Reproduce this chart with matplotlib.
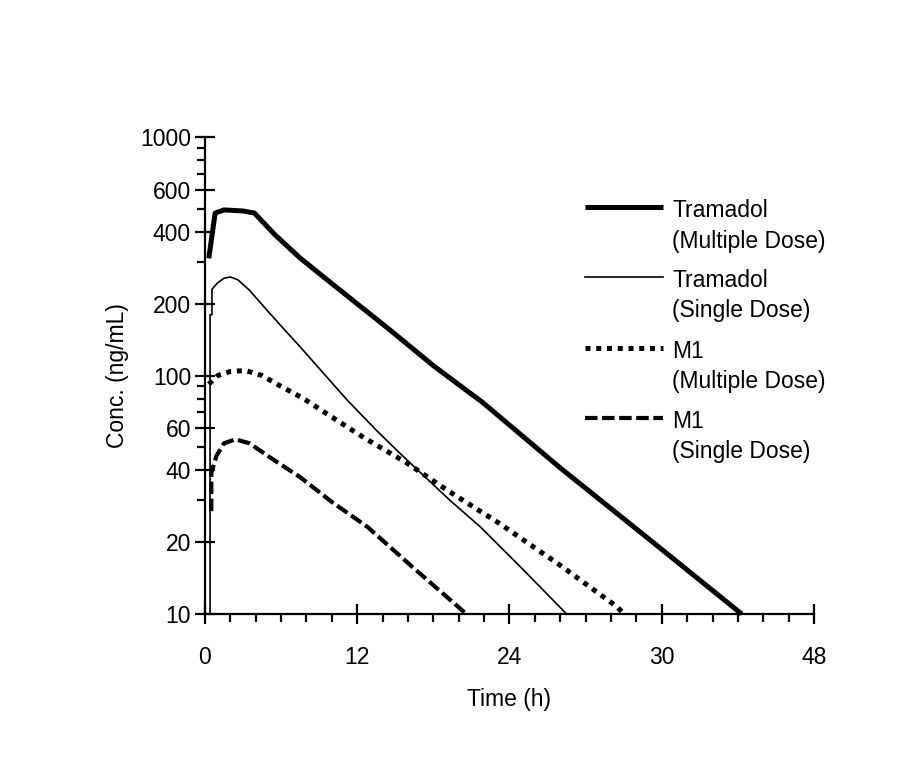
import numpy as np
import matplotlib
matplotlib.use("Agg")
import matplotlib.pyplot as plt
from matplotlib.ticker import FixedLocator, NullFormatter

plt.rcParams['font.family'] = ['Liberation Sans', 'DejaVu Sans']

# Tramadol, multiple dose
t_tram_md = [0.3, 0.8, 1.5, 3.0, 3.9, 5.5, 7.5, 10.0, 14.6, 18.0, 21.9, 28.0, 35.1, 42.3]
c_tram_md = [310, 480, 495, 490, 480, 390, 311, 243, 155, 110, 77, 41, 20.4, 10]

# Tramadol, single dose
t_tram_sd = [0.4, 0.4, 0.55, 0.55, 1.0, 1.5, 2.0, 2.6, 3.5, 5.0, 6.3, 7.5, 9.5, 11.2, 13.5, 15.4, 19.3, 21.7, 25.0, 28.5]
c_tram_sd = [10, 180, 180, 230, 245, 256, 259, 252, 228, 185, 155, 132, 100, 79, 59, 47, 30, 23.2, 15.5, 10]

# M1, multiple dose
t_m1_md = [0.3, 1.0, 2.0, 3.2, 4.5, 6.0, 7.7, 10.0, 12.5, 15.9, 19.3, 23.2, 28.0, 32.5, 33.0]
c_m1_md = [92, 100, 104, 105, 100, 90, 80.5, 67, 55, 43, 32.5, 24, 16, 10.7, 10]

# M1, single dose
t_m1_sd = [0.5, 0.5, 0.9, 1.5, 2.4, 3.5, 5.5, 7.5, 10.0, 12.8, 16.5, 20.6]
c_m1_sd = [27, 39, 46, 52, 54, 52, 44, 37.5, 29.5, 23.2, 15.5, 10]

labels = ["Tramadol", "(Multiple Dose)", "Tramadol", "(Single Dose)",
          "M1", "(Multiple Dose)", "M1", "(Single Dose)"]

x_major = [0, 12, 24, 36, 48]
x_major_labels = ["0", "12", "24", "30", "48"]
x_minor = np.arange(0, 49, 2)
y_major = [10, 20, 40, 60, 100, 200, 400, 600, 1000]
y_minor = [30, 50, 70, 80, 90, 300, 500, 700, 800, 900]

fs = 16.5

fig = plt.figure(figsize=(9.2, 7.68), dpi=100)
ax = fig.add_axes([0.2228, 0.2005, 0.662, 0.621])

styles = [
    dict(color="black", lw=3.6, solid_capstyle="butt"),
    dict(color="black", lw=1.2),
    dict(color="black", lw=3.6, linestyle=(0, (1.0, 1.15)), dash_capstyle="butt"),
    dict(color="black", lw=3.0, linestyle=(0, (3.0, 1.1)), dash_capstyle="butt"),
]
series = [(t_tram_md, c_tram_md), (t_tram_sd, c_tram_sd), (t_m1_md, c_m1_md), (t_m1_sd, c_m1_sd)]
for (t, c), st in zip(series, styles):
    ax.plot(t, c, **st, clip_on=False)

ax.set_yscale("log")
ax.set_xlim(0, 48)
ax.set_ylim(10, 1000)

ax.xaxis.set_major_locator(FixedLocator(x_major))
ax.set_xticklabels(x_major_labels)
ax.xaxis.set_minor_locator(FixedLocator(x_minor))
ax.yaxis.set_major_locator(FixedLocator(y_major))
ax.set_yticklabels([str(v) for v in y_major])
ax.yaxis.set_minor_locator(FixedLocator(y_minor))
ax.yaxis.set_minor_formatter(NullFormatter())

ax.tick_params(which="major", direction="inout", length=14, width=1.6, labelsize=fs, pad=3)
ax.tick_params(which="minor", direction="out", length=6, width=1.6)
ax.tick_params(axis="x", which="major", pad=16)

for side in ["top", "right"]:
    ax.spines[side].set_visible(False)
for side in ["left", "bottom"]:
    ax.spines[side].set_linewidth(1.6)

ax.set_xlabel("Time (h)", fontsize=fs, labelpad=14)
ax.set_ylabel("Conc. (ng/mL)", fontsize=fs, labelpad=8)

# hand-made legend, handle aligned with first text line
leg_y = [0.853, 0.7065, 0.558, 0.411]
for i, (yy, st) in enumerate(zip(leg_y, styles)):
    ax.plot([0.624, 0.752], [yy, yy], transform=ax.transAxes, clip_on=False, **st)
    ax.text(0.767, yy - 0.007, labels[2 * i], transform=ax.transAxes, fontsize=fs, va="center", ha="left")
    ax.text(0.767, yy - 0.071, labels[2 * i + 1], transform=ax.transAxes, fontsize=fs, va="center", ha="left")

fig.savefig("out.png", dpi=100)
